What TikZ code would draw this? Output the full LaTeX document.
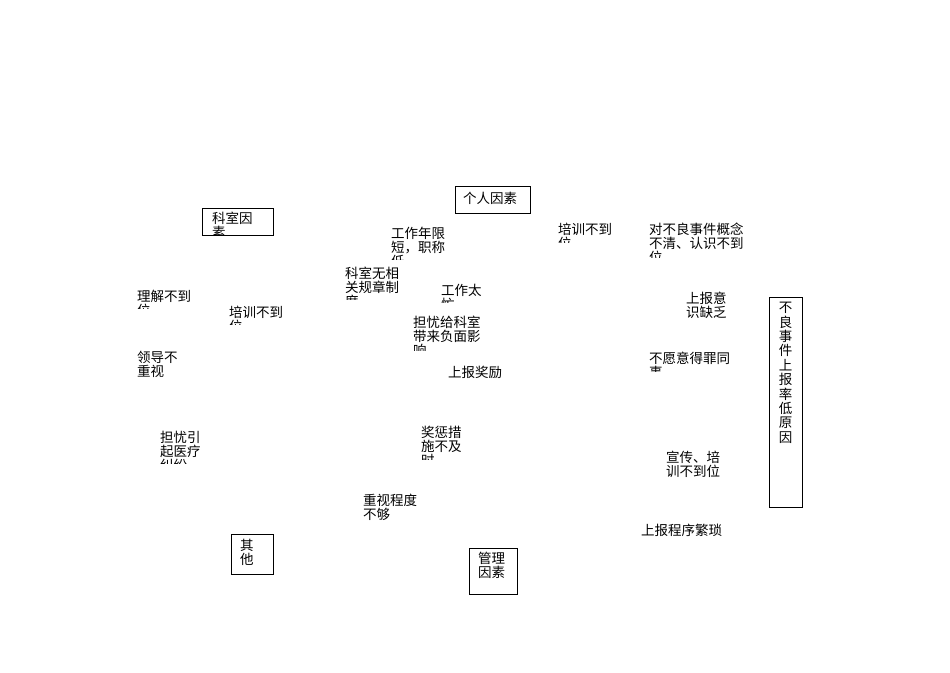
\documentclass[tikz,border=0pt]{standalone}
\usepackage{fontspec}
\setmainfont{Noto Sans CJK SC}
\usepackage{tikz}
\usetikzlibrary{positioning}

\tikzset{
  lbl/.style={anchor=north west,inner sep=0pt,align=left,
    font=\fontsize{13.5}{14}\selectfont},
  catbox/.style={draw,line width=0.8pt,anchor=north west,inner sep=0pt},
}
% a label whose lower lines are cut off at y = #4
\newcommand{\cutlabel}[5]{%
  \begin{scope}
    \clip (#2-3,#3-3) rectangle (#2+110,#4);
    \node[lbl] (#1) at (#2,#3) {#5};
  \end{scope}}

\begin{document}
\begin{tikzpicture}[x=1pt,y=-1pt]
	\useasboundingbox (0,0) rectangle (950,672);
	\fill[white] (0,0) rectangle (950,672);
	% category boxes
	\node[catbox,minimum width=71pt,minimum height=27pt] (keshi) at (202,208) {};
	\begin{scope}
		\clip (keshi.north west) rectangle (keshi.south east);
		\node[lbl] (keshitxt) at (212,212) {科室因\\素};
	\end{scope}
	\node[catbox,minimum width=75pt,minimum height=27pt] (geren) at (455,186) {};
	\node[lbl] (gerentxt) at (463,192) {个人因素};
	\node[catbox,minimum width=42pt,minimum height=40pt] (qita) at (231,534) {};
	\node[lbl] (qitatxt) at (240,539) {其\\他};
	\node[catbox,minimum width=48pt,minimum height=46pt] (guanli) at (469,548) {};
	\node[lbl] (guanlitxt) at (478,552) {管理\\因素};
	\node[catbox,minimum width=33pt,minimum height=210pt] (result) at (769,297) {};
	\node[lbl,anchor=north,align=center,font=\fontsize{13.5}{14.4}\selectfont] (resulttxt) at (785.5,302)
		{不\\良\\事\\件\\上\\报\\率\\低\\原\\因};
	% causes
	\cutlabel{nianxian}{391}{227}{259}{工作年限\\短，职称\\低}
	\cutlabel{guizhang}{345}{267}{299}{科室无相\\关规章制\\度}
	\cutlabel{gongzuo}{441}{284}{302}{工作太\\忙}
	\cutlabel{lijie}{137}{290}{308}{理解不到\\位}
	\cutlabel{peixunA}{229}{306}{324}{培训不到\\位}
	\cutlabel{danyouA}{413}{316}{350}{担忧给科室\\带来负面影\\响}
	\cutlabel{jiangli}{448}{366}{383}{上报奖励\\.}
	\node[lbl] (lingdao) at (137,351) {领导不\\重视};
	\cutlabel{peixunB}{558}{223}{242}{培训不到\\位}
	\cutlabel{gainian}{649}{223}{257}{对不良事件概念\\不清、认识不到\\位}
	\node[lbl] (yishi) at (686,292) {上报意\\识缺乏};
	\cutlabel{dezui}{649}{352}{371}{不愿意得罪同\\事}
	\cutlabel{jiufen}{160}{431}{463}{担忧引\\起医疗\\纠纷}
	\cutlabel{jiangcheng}{421}{426}{459}{奖惩措\\施不及\\时}
	\node[lbl] (zhongshi) at (363,494) {重视程度\\不够};
	\node[lbl] (xuanchuan) at (666,451) {宣传、培\\训不到位};
	\node[lbl] (chengxu) at (641,524) {上报程序繁琐};
\end{tikzpicture}
\end{document}
